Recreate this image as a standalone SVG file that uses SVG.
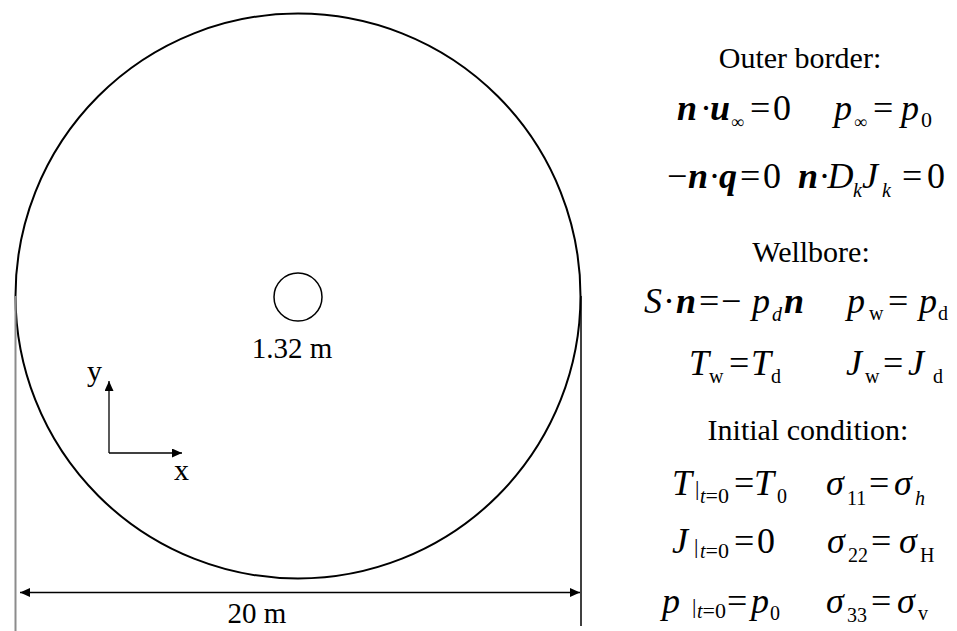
<svg xmlns="http://www.w3.org/2000/svg" width="957" height="631" viewBox="0 0 957 631" font-family="'Liberation Serif','Times New Roman',serif">
<style>
text{font-family:"Liberation Serif","Times New Roman",serif;fill:#000}
.lbl{font-size:29px}
.ax{font-size:30px}
.hd{font-size:30px;text-anchor:middle}
.m{font-size:36px}
.i{font-style:italic}
.b{font-weight:bold;font-style:italic}
.s{font-size:20px;font-style:normal;font-weight:normal}
.s2{font-size:22px;font-style:normal;font-weight:normal}
.inf{font-size:18px;font-style:normal;font-weight:normal}
.si{font-size:20px;font-style:italic;font-weight:normal}
.bar{font-size:22px;font-style:normal}
.ln{stroke:#000;stroke-width:1.3;fill:none}
</style>
<defs>
<marker id="ah" markerWidth="10" markerHeight="9" refX="10" refY="4.5" orient="auto-start-reverse" markerUnits="userSpaceOnUse">
<path d="M0,0 L10,4.5 L0,9 Z" fill="#000"/>
</marker>
</defs>
<rect width="957" height="631" fill="#fff"/>
<g id="domain">
<circle cx="298" cy="296" r="282.5" fill="none" stroke="#000" stroke-width="2"/>
</g>
<g id="wellbore">
<circle cx="298" cy="297" r="24" fill="none" stroke="#000" stroke-width="1.5"/>
<text class="lbl" x="292" y="358" text-anchor="middle">1.32 m</text>
</g>
<g id="axes">
<text class="ax" x="87" y="381">y</text>
<text class="ax" x="174" y="480">x</text>
</g>
<g id="dimension">
<line x1="15.5" y1="296" x2="15.5" y2="631" stroke="#8c8c8c" stroke-width="2"/>
<line x1="581" y1="296" x2="581" y2="626" stroke="#000" stroke-width="1.5"/>
<text class="lbl" x="257" y="623" text-anchor="middle">20 m</text>
</g>
<g id="connectors">
<line class="ln" x1="109" y1="453" x2="109" y2="381" marker-end="url(#ah)"/>
<line class="ln" x1="109" y1="453" x2="182" y2="453" marker-end="url(#ah)"/>
<line class="ln" x1="20" y1="592.5" x2="580" y2="592.5" marker-start="url(#ah)" marker-end="url(#ah)"/>
</g>
<g id="outer-border">
<text class="hd" x="800" y="68">Outer border:</text>
<text class="m" y="120"><tspan class="b" x="677">n</tspan><tspan x="700">·</tspan><tspan class="b" x="710">u</tspan><tspan class="inf" x="731" y="128">∞</tspan><tspan x="750" y="120">=</tspan><tspan x="773">0</tspan></text>
<text class="m" y="120"><tspan class="i" x="834">p</tspan><tspan class="inf" x="854" y="128">∞</tspan><tspan x="873" y="120">=</tspan><tspan class="i" x="901">p</tspan><tspan class="s2" x="921" y="127">0</tspan></text>
<text class="m" y="188"><tspan x="667">−</tspan><tspan class="b" x="688">n</tspan><tspan x="708.5">·</tspan><tspan class="b" x="719">q</tspan><tspan x="740">=</tspan><tspan x="763">0</tspan></text>
<text class="m" y="188"><tspan class="b" x="798">n</tspan><tspan x="818.5">·</tspan><tspan class="i" x="827.5">D</tspan><tspan class="si" x="853" y="197">k</tspan><tspan class="i" x="862" y="188">J</tspan><tspan class="si" x="882" y="197">k</tspan><tspan x="902" y="188">=</tspan><tspan x="927">0</tspan></text>
</g>
<g id="wellbore-bc">
<text class="hd" x="811" y="262">Wellbore:</text>
<text class="m" y="313"><tspan class="i" x="644">S</tspan><tspan x="663">·</tspan><tspan class="b" x="676">n</tspan><tspan x="699">=</tspan><tspan x="721">−</tspan><tspan class="i" x="752">p</tspan><tspan class="si" x="772" y="321">d</tspan><tspan class="b" x="784" y="313">n</tspan></text>
<text class="m" y="313"><tspan class="i" x="847">p</tspan><tspan class="s" x="869" y="320">w</tspan><tspan x="888" y="313">=</tspan><tspan class="i" x="919">p</tspan><tspan class="s" x="938" y="320">d</tspan></text>
<text class="m" y="375"><tspan class="i" x="689">T</tspan><tspan class="s" x="709" y="383">w</tspan><tspan x="729" y="375">=</tspan><tspan class="i" x="751">T</tspan><tspan class="s" x="771" y="383">d</tspan></text>
<text class="m" y="375"><tspan class="i" x="846">J</tspan><tspan class="s" x="865" y="383">w</tspan><tspan x="883" y="375">=</tspan><tspan class="i" x="908">J</tspan><tspan class="s" x="933" y="383">d</tspan></text>
</g>
<g id="initial-condition">
<text class="hd" x="808" y="440">Initial condition:</text>
<text class="m" y="495"><tspan class="i" x="672">T</tspan><tspan class="bar" x="695">|</tspan><tspan class="si" x="700" y="503" font-size="22">t</tspan><tspan class="s2" y="503">=0</tspan><tspan x="734" y="495">=</tspan><tspan class="i" x="754">T</tspan><tspan class="s" x="777" y="503">0</tspan></text>
<text class="m" y="495"><tspan class="i" x="826">σ</tspan><tspan class="s" x="847" y="505">11</tspan><tspan x="869" y="495">=</tspan><tspan class="i" x="894">σ</tspan><tspan class="si" x="915" y="505">h</tspan></text>
<text class="m" y="553"><tspan class="i" x="672">J</tspan><tspan class="bar" x="694">|</tspan><tspan class="si" x="700" y="558" font-size="22">t</tspan><tspan class="s2" y="558">=0</tspan><tspan x="734" y="553">=</tspan><tspan x="757">0</tspan></text>
<text class="m" y="553"><tspan class="i" x="827">σ</tspan><tspan class="s" x="848" y="562">22</tspan><tspan x="871" y="553">=</tspan><tspan class="i" x="899">σ</tspan><tspan class="s" x="920" y="562">H</tspan></text>
<text class="m" y="613"><tspan class="i" x="662">p</tspan><tspan class="bar" x="692">|</tspan><tspan class="si" x="697" y="618" font-size="22">t</tspan><tspan class="s2" y="618">=0</tspan><tspan x="727" y="613">=</tspan><tspan class="i" x="751">p</tspan><tspan class="s" x="770" y="620">0</tspan></text>
<text class="m" y="613"><tspan class="i" x="826">σ</tspan><tspan class="s" x="847" y="622">33</tspan><tspan x="871" y="613">=</tspan><tspan class="i" x="897">σ</tspan><tspan class="s" x="918" y="620">v</tspan></text>
</g>
</svg>
